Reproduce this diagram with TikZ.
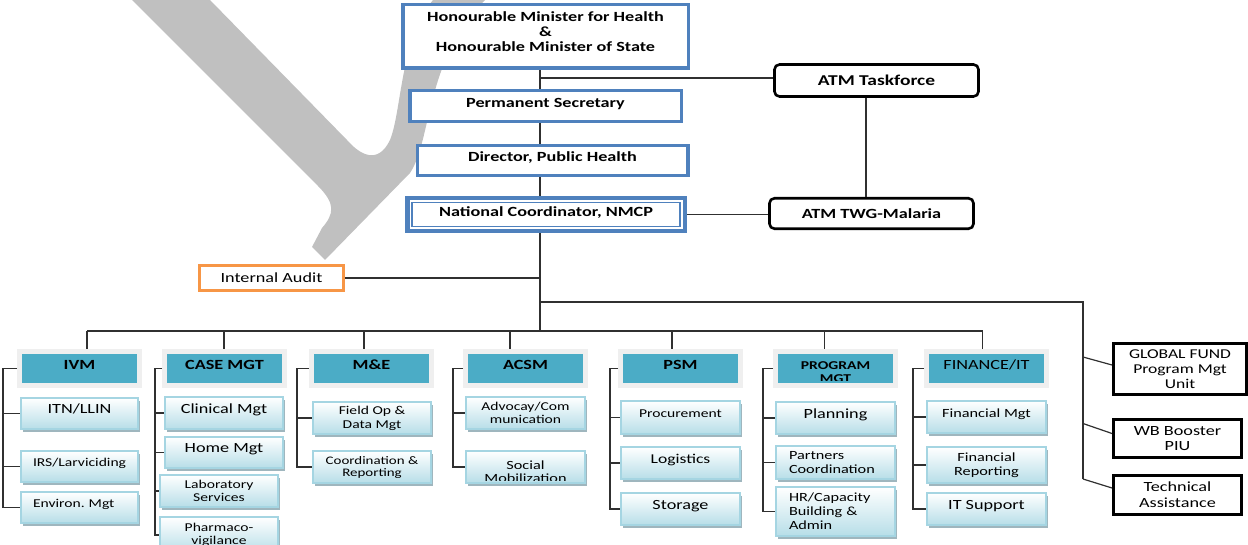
\documentclass[tikz,border=0pt]{standalone}
\usepackage{fontspec}
\setmainfont{Carlito}[FakeStretch=1.3]
\usetikzlibrary{shadows,calc}
\definecolor{blueb}{HTML}{4F81BD}
\definecolor{tealh}{HTML}{4BACC6}
\definecolor{hframe}{HTML}{EFEFEF}
\definecolor{subedge}{HTML}{A5D5E2}
\definecolor{subbot}{HTML}{B7DEE8}
\definecolor{shadowc}{HTML}{8EA9B3}
\definecolor{orangeb}{HTML}{F79646}
\definecolor{wmark}{HTML}{C0C0C0}
\definecolor{linec}{HTML}{303030}
\newcommand\fsz[2]{\fontsize{#1pt}{#2pt}\selectfont}
\begin{document}
\begin{tikzpicture}[x=1pt,y=-1pt,
  wh/.style 2 args={minimum width=#1, minimum height=#2},
  raised/.style={text height=10pt, text depth=#1},
  raised/.default=10pt,
  conn/.style={draw=linec, line width=1.2pt},
  topbox/.style={draw=blueb, line width=3.5pt, fill=white, align=center, inner sep=0pt, font=\bfseries\fsz{14}{15}},
  atmbox/.style={draw=black, line width=2.6pt, rounded corners=5pt, fill=white, align=center, inner sep=0pt, font=\bfseries\fsz{14}{15}},
  rbox/.style={draw=black, line width=3pt, fill=white, align=center, inner sep=0pt, font=\fsz{14}{15}},
  hdr/.style={draw=hframe, line width=5pt, fill=tealh, align=center, inner sep=0pt, minimum width=120pt, minimum height=34pt, font=\bfseries\fsz{14}{15}},
  sub/.style={draw=subedge, line width=1.3pt, top color=white, bottom color=subbot, inner sep=0pt, align=center,
    drop shadow={shadow xshift=2pt, shadow yshift=-2.5pt, fill=shadowc, opacity=0.85}},
]
\useasboundingbox (0,0) rectangle (1248,545);
% watermark
\fill[wmark] (132,0) -- (318,186) .. controls (336,204) and (334,214) .. (322,228) -- (312,247) -- (325,260)
  -- (410,173) .. controls (432,140) and (425,60) .. (485,0) -- (433,0)
  .. controls (400,40) and (402,110) .. (390,140) .. controls (378,165) and (360,155) .. (347,140) -- (210,0) -- cycle;

% top chain
\node[topbox, wh={285.5}{63.5}, path picture={\node[align=center, inner sep=0pt, font=\bfseries\fsz{14}{15}] (mintext) at ($(path picture bounding box.center)+(0,-4.5)$) {Honourable Minister for Health\\\&\\Honourable Minister of State};}] (min) at (545.5,36.5) {};
\node[topbox, wh={271.5}{31}, raised=7pt] (ps) at (545.5,106) {Permanent Secretary};
\node[topbox, wh={270.5}{30}, raised=7pt] (dir) at (552.5,160.5) {Director, Public Health};
\node[topbox, line width=4.5pt, wh={277.5}{33}, raised=6pt] (nmcp) at (546,214.5) {National Coordinator, NMCP};
\draw[blueb, line width=1.2pt] ($(nmcp.north west)+(7,7)$) rectangle ($(nmcp.south east)+(-7,-7)$);

\node[atmbox, wh={204}{32}, font=\bfseries\fsz{15}{16}] (atmtf) at (876.5,80.5) {ATM Taskforce};
\node[atmbox, wh={204}{30.5}] (atmtwg) at (871.5,213.5) {ATM TWG-Malaria};

\node[draw=orangeb, line width=3pt, fill=white, inner sep=0pt, wh={144}{25}, font=\fsz{14}{15}] (ia) at (271.5,278) {Internal Audit};

% right boxes
\node[rbox, wh={133}{51}, font=\fsz{13.5}{15}] (gf) at (1180,369) {GLOBAL FUND\\Program Mgt\\Unit};
\node[rbox, wh={128}{38}] (wb) at (1177.5,438.5) {WB Booster\\PIU};
\node[rbox, wh={128}{39}, font=\fsz{14}{16}] (ta) at (1177.5,495) {Technical\\Assistance};

% headers
\node[hdr, raised=8pt] (ivm) at (79.5,368.5) {IVM};
\node[hdr, raised=8pt] (cas) at (224.5,368.5) {CASE MGT};
\node[hdr, raised=8pt] (mne) at (371.5,368.5) {M\&E};
\node[hdr, raised=8pt] (acs) at (525.5,368.5) {ACSM};
\node[hdr, raised=8pt] (psm) at (680.5,368.5) {PSM};
\node[hdr, path picture={\clip (path picture bounding box.north west) rectangle ($(path picture bounding box.south east)+(0,-5.5)$);
   \node[align=center, inner sep=0pt, font=\bfseries\fsz{12}{13}] (prgtext) at ($(path picture bounding box.center)+(0,3.5)$) {PROGRAM\\MGT};}] (prg) at (835.5,368.5) {};
\node[hdr, raised=8pt, font=\fsz{14}{15}] (fin) at (986.5,368.5) {FINANCE/IT};

% IVM column
\node[sub, wh={117}{31}, raised, font=\fsz{14}{15}] (itn) at (79.5,413.5) {ITN/LLIN};
\node[sub, wh={117}{31}, raised, align=left, text width=93pt, font=\fsz{12}{13}] (irs) at (79.5,466.5) {IRS/Larviciding};
\node[sub, wh={117}{31}, raised, align=left, text width=93pt, font=\fsz{12}{13}] (env) at (79.5,507.5) {Environ.\ Mgt};
% CASE MGT column
\node[sub, wh={118}{32}, raised, font=\fsz{14}{15}] (cli) at (224,413) {Clinical Mgt};
\node[sub, wh={118}{31}, raised, font=\fsz{14}{15}] (hom) at (224,452.5) {Home Mgt};
\node[sub, wh={118}{32}, font=\fsz{12}{12.5}] (lab) at (219,491) {Laboratory\\Services};
\node[sub, wh={118}{36}, font=\fsz{12}{13}] (pha) at (219,535) {Pharmaco-\\vigilance};
% M&E column
\node[sub, wh={118}{32}, font=\fsz{12}{14}] (fld) at (372,418) {Field Op \&\\Data Mgt};
\node[sub, wh={118}{32}, font=\fsz{11.5}{12}] (crd) at (372,467) {Coordination \&\\Reporting};
% ACSM column
\node[sub, wh={119}{32}, font=\fsz{12}{12.5}] (adv) at (525.5,413) {Advocay/Com\\munication};
\node[sub, wh={119}{32}, path picture={\clip (path picture bounding box.north west) rectangle ($(path picture bounding box.south east)+(0,-3)$);
   \node[align=center, inner sep=0pt, font=\fsz{12.5}{13}] (soctext) at ($(path picture bounding box.center)+(0,4.5)$) {Social\\Mobilization};}] (soc) at (525.5,467) {};
% PSM column
\node[sub, wh={119}{33}, raised, font=\fsz{12}{13}] (pro) at (680.5,417.5) {Procurement};
\node[sub, wh={119}{32}, raised, font=\fsz{13.5}{15}] (log) at (680.5,463) {Logistics};
\node[sub, wh={119}{32}, raised, font=\fsz{14}{15}] (sto) at (680.5,509) {Storage};
% PROGRAM MGT column
\node[sub, wh={119}{32}, raised, font=\fsz{14}{15}] (pla) at (835.5,418) {Planning};
\node[sub, wh={119}{33}, align=left, text width=93pt, font=\fsz{12.5}{13.5}] (par) at (835.5,462.5) {Partners\\Coordination};
\node[sub, wh={119}{49}, align=left, text width=93pt, font=\fsz{12.5}{14}] (hrc) at (835.5,511.5) {HR/Capacity\\Building \&\\Admin};
% FINANCE/IT column
\node[sub, wh={119}{32}, raised, font=\fsz{12.5}{13}] (fmg) at (986.5,417) {Financial Mgt};
\node[sub, wh={119}{36}, font=\fsz{12.5}{14}] (frp) at (986.5,465) {Financial\\Reporting};
\node[sub, wh={119}{32}, raised, font=\fsz{14}{15}] (its) at (986.5,509) {IT Support};

% spine and top connectors
\coordinate (spine) at (540,331);
\coordinate (tfx) at (866,0);
\coordinate (rt) at (1083,302);
\draw[conn] (min.south -| spine) -- (ps.north -| spine);
\draw[conn] (ps.south -| spine) -- (dir.north -| spine);
\draw[conn] (dir.south -| spine) -- (nmcp.north -| spine);
\draw[conn] (nmcp.south -| spine) -- (spine);
\draw[conn] ($(atmtf.west -| spine)+(0,-2.5)$) -- ($(atmtf.west)+(0,-2.5)$);
\draw[conn] (atmtf.south -| tfx) -- (atmtwg.north -| tfx);
\draw[conn] (nmcp.east) -- (nmcp.east -| atmtwg.west);
\draw[conn] (ia.east) -- (ia.east -| spine);
% right branch
\draw[conn] (rt -| spine) -- (rt) -- ($(ta.west -| rt)+(0,-16)$);
\draw[conn] ($(gf.west -| rt)+(0,-12)$) -- ($(gf.west)+(0,-4)$);
\draw[conn] ($(wb.west -| rt)+(0,-15)$) -- ($(wb.west)+(0,-5)$);
\draw[conn] ($(ta.west -| rt)+(0,-16)$) -- ($(ta.west)+(0,-7)$);

% bar and drops
\coordinate (divm) at ($(ivm.north)+(7.5,0)$);
\coordinate (dcas) at ($(cas.north)+(-0.5,0)$);
\coordinate (dmne) at ($(mne.north)+(-7.5,0)$);
\coordinate (dacs) at ($(acs.north)+(-15.5,0)$);
\coordinate (dpsm) at ($(psm.north)+(-8.5,0)$);
\coordinate (dprg) at ($(prg.north)+(-11,0)$);
\coordinate (dfin) at ($(fin.north)+(-4,0)$);
\draw[conn] (divm |- spine) -- (dfin |- spine);
\foreach \d in {divm,dcas,dmne,dacs,dpsm,dprg,dfin}{\draw[conn] (\d |- spine) -- (\d);}

% brackets
\coordinate (b1) at (3,0);
\draw[conn] (ivm.west) -| (b1 |- env.west) -- (env.west);
\draw[conn] (b1 |- itn.west) -- (itn.west);
\draw[conn] (b1 |- irs.west) -- (irs.west);
\coordinate (b2) at (155,0);
\draw[conn] (cas.west) -| (b2 |- pha.west) -- (pha.west);
\draw[conn] (b2 |- cli.west) -- (cli.west);
\draw[conn] (b2 |- hom.west) -- (hom.west);
\draw[conn] (b2 |- lab.west) -- (lab.west);
\coordinate (b3) at (297,0);
\draw[conn] (mne.west) -| (b3 |- crd.west) -- (crd.west);
\draw[conn] (b3 |- fld.west) -- (fld.west);
\coordinate (b4) at (453,0);
\draw[conn] (acs.west) -| (b4 |- soc.west) -- (soc.west);
\draw[conn] (b4 |- adv.west) -- (adv.west);
\coordinate (b5) at (610,0);
\draw[conn] (psm.west) -| (b5 |- sto.west) -- (sto.west);
\draw[conn] (b5 |- pro.west) -- (pro.west);
\draw[conn] (b5 |- log.west) -- (log.west);
\coordinate (b6) at (763,0);
\draw[conn] (prg.west) -| (b6 |- hrc.west) -- (hrc.west);
\draw[conn] (b6 |- pla.west) -- (pla.west);
\draw[conn] (b6 |- par.west) -- (par.west);
\coordinate (b7) at (913,0);
\draw[conn] (fin.west) -| (b7 |- its.west) -- (its.west);
\draw[conn] (b7 |- fmg.west) -- (fmg.west);
\draw[conn] (b7 |- frp.west) -- (frp.west);
\end{tikzpicture}
\end{document}
